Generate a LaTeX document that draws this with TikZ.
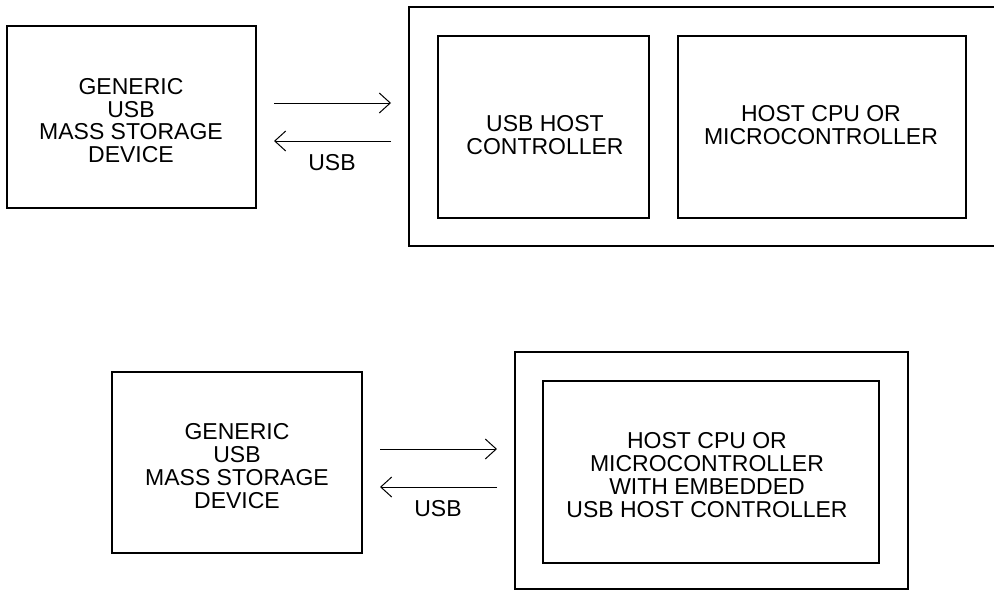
\documentclass[tikz,border=0pt]{standalone}
\usepackage{fontspec}
\setmainfont{Liberation Sans}
\usetikzlibrary{arrows.meta}

\begin{document}
\begin{tikzpicture}[x=1pt,y=-1pt,
  box/.style={draw,line width=1.3pt,inner sep=0pt},
  txt/.style={align=center,inner sep=0pt,font=\fontsize{23}{22.8}\selectfont},
  usb/.style={line width=1pt,-{Straight Barb[length=11pt,width=20pt,line width=1pt]}}]
  \useasboundingbox (0,0) rectangle (994,592);
  % top: separate host controller
  \node[box,minimum width=249pt,minimum height=182pt] (dev) at (131.5,117) {};
  \node[txt] (devtxt) at (131,120.5) {GENERIC\\USB\\MASS STORAGE\\DEVICE};
  \node[box,minimum width=600pt,minimum height=239pt] (host) at (709,126.5) {};
  \node[box,minimum width=211pt,minimum height=182pt] (hc) at (543.5,127) {};
  \node[txt] (hctxt) at (545,135) {USB HOST\\CONTROLLER};
  \node[box,minimum width=288pt,minimum height=182pt] (cpu) at (822,127) {};
  \node[txt] (cputxt) at (821,125) {HOST CPU OR\\MICROCONTROLLER};
  \coordinate (l1) at (274,103); \coordinate (r1) at (391,103);
  \coordinate (l2) at (274,141); \coordinate (r2) at (391,141);
  \draw[usb] (l1) -- (r1);
  \draw[usb] (r2) -- (l2);
  \node[txt] (usbtop) at (332,163) {USB};
  % bottom: embedded host controller
  \node[box,minimum width=250pt,minimum height=181pt] (dev2) at (237,462.5) {};
  \node[txt] (dev2txt) at (237,466) {GENERIC\\USB\\MASS STORAGE\\DEVICE};
  \node[box,minimum width=393pt,minimum height=237pt] (host2) at (711.5,470.5) {};
  \node[box,minimum width=336pt,minimum height=182pt] (mcu) at (711,472) {};
  \node[txt] (mcutxt) at (707,475) {HOST CPU OR\\MICROCONTROLLER\\WITH EMBEDDED\\USB HOST CONTROLLER};
  \coordinate (l3) at (380,449); \coordinate (r3) at (497,449);
  \coordinate (l4) at (380,487); \coordinate (r4) at (497,487);
  \draw[usb] (l3) -- (r3);
  \draw[usb] (r4) -- (l4);
  \node[txt] (usbbot) at (438,509) {USB};
\end{tikzpicture}
\end{document}
